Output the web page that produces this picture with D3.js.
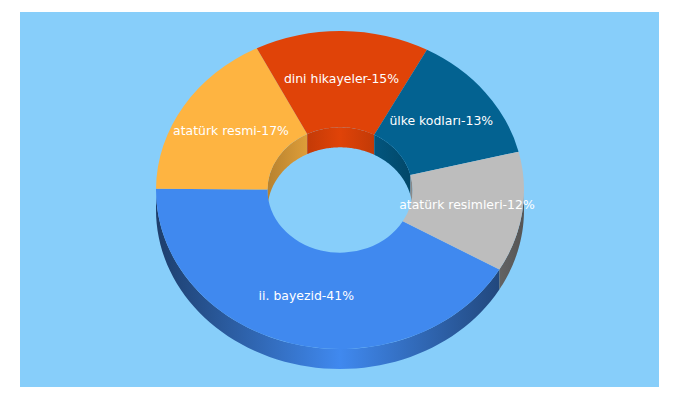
<!DOCTYPE html>
<html>
<head>
<meta charset="utf-8">
<script src="https://cdn.jsdelivr.net/npm/d3@7"></script>
<style>
html, body { margin: 0; padding: 0; background: #fff; }
svg { display: block; }
text { font-family: "DejaVu Sans", sans-serif; font-size: 12.45px; fill: #fff; }
</style>
</head>
<body>
<svg id="chart" width="680" height="400"></svg>
<script>
const labels = ['ii. bayezid-41%', 'atatürk resmi-17%', 'dini hikayeler-15%', 'ülke kodları-13%', 'atatürk resimleri-12%'];
const shares = [41.8, 17.4, 15.3, 13.3, 12.2];
const colors = ['#4089ef', '#feb441', '#e04308', '#036291', '#bdbdbd'];

const width = 680, height = 400;
const cx = 340, cy = 190;
const outerR = 184, innerR = 72.5;
const squash = 159 / 184;
const depth = 20;
const firstAngle = 120 * Math.PI / 180;

const svg = d3.select('#chart');
const defs = svg.append('defs');

svg.append('rect')
    .attr('x', 20).attr('y', 12)
    .attr('width', 639).attr('height', 375)
    .attr('fill', '#87cefa');

const slices = d3.pie()
    .sort(null)
    .startAngle(firstAngle)
    .endAngle(firstAngle + 2 * Math.PI)(shares);

// one horizontal gradient per slice, darker toward the edges of the ring
const addGradient = (id, color, r, edge) => {
    const g = defs.append('linearGradient')
        .attr('id', id)
        .attr('gradientUnits', 'userSpaceOnUse')
        .attr('x1', cx - r).attr('x2', cx + r)
        .attr('y1', 0).attr('y2', 0);
    const c = d3.rgb(color);
    const dark = d3.rgb(c.r * edge, c.g * edge, c.b * edge);
    [[0, dark], [0.5, c], [1, dark]].forEach(s => {
        g.append('stop').attr('offset', s[0]).attr('stop-color', s[1]);
    });
};

const wallArea = (r) => d3.area()
    .x(a => cx + r * Math.sin(a))
    .y0(a => cy - r * squash * Math.cos(a))
    .y1(a => cy - r * squash * Math.cos(a) + depth);

// part of a slice's angle span that falls inside [from, to], trying full turns
const visibleSpan = (d, from, to) => {
    for (const turn of [-1, 0, 1]) {
        const a0 = Math.max(d.startAngle + turn * 2 * Math.PI, from);
        const a1 = Math.min(d.endAngle + turn * 2 * Math.PI, to);
        if (a1 > a0) return [a0, a1];
    }
    return null;
};

const drawWall = (d, i, r, from, to, gradId) => {
    const span = visibleSpan(d, from, to);
    if (!span) return;
    const n = 60;
    const angles = d3.range(n + 1).map(k => span[0] + (span[1] - span[0]) * k / n);
    svg.append('path')
        .attr('d', wallArea(r)(angles))
        .attr('fill', 'url(#' + gradId + i + ')');
};

slices.forEach((d, i) => {
    addGradient('outer' + i, colors[i], outerR, 0.45);
    addGradient('inner' + i, colors[i], innerR, 0.72);
    // back of the hole first, then the front rim
    drawWall(d, i, innerR, -Math.PI / 2, Math.PI / 2, 'inner');
    drawWall(d, i, outerR, Math.PI / 2, 3 * Math.PI / 2, 'outer');
});

const arc = d3.arc().innerRadius(innerR).outerRadius(outerR);

svg.append('g')
    .attr('transform', 'translate(' + cx + ',' + cy + ') scale(1,' + squash + ')')
    .selectAll('path')
    .data(slices)
    .enter()
    .append('path')
    .attr('d', arc)
    .attr('fill', (d, i) => colors[i]);

svg.append('g')
    .selectAll('text')
    .data(slices)
    .enter()
    .append('text')
    .attr('x', d => cx + arc.centroid(d)[0])
    .attr('y', d => cy + arc.centroid(d)[1] * squash)
    .attr('text-anchor', 'middle')
    .attr('dominant-baseline', 'middle')
    .text((d, i) => labels[i]);
</script>
</body>
</html>
